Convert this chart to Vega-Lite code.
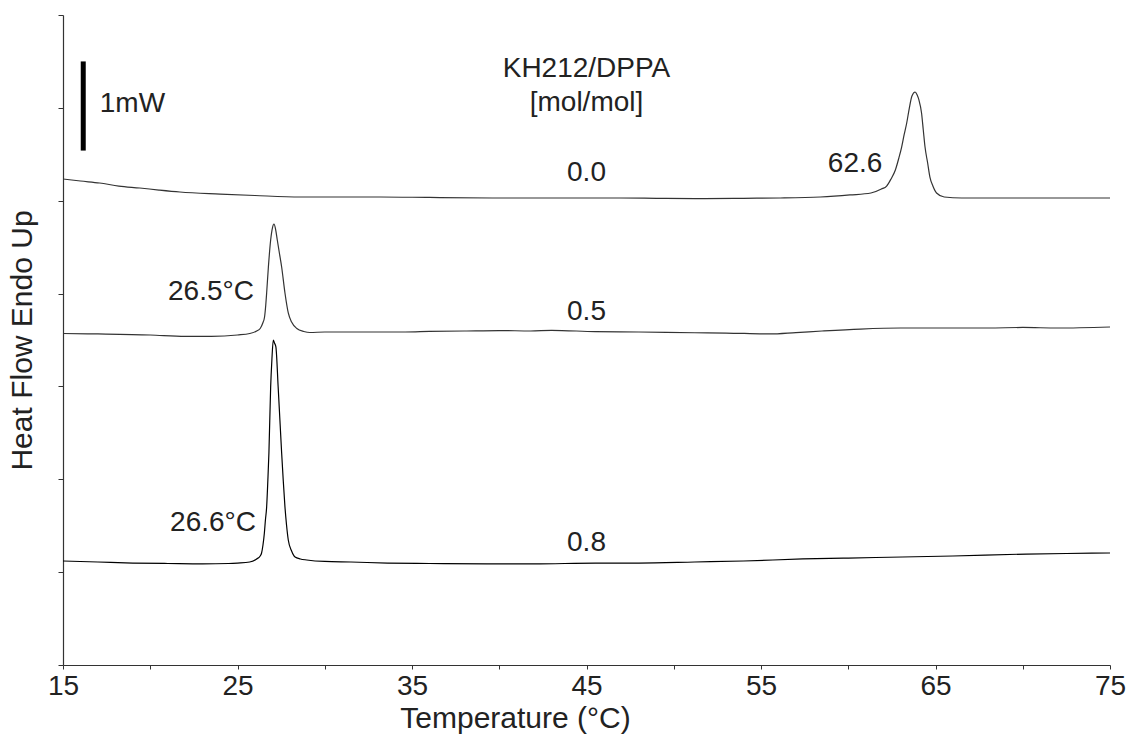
{
  "$schema": "https://vega.github.io/schema/vega-lite/v6.json",
  "width": 1047,
  "height": 650,
  "autosize": {"type": "none"},
  "padding": {"left": 63, "top": 15, "right": 16, "bottom": 73},
  "background": "white",
  "config": {
    "view": {"stroke": null},
    "font": "Liberation Sans",
    "axis": {
      "grid": false,
      "domainColor": "#333",
      "domainWidth": 1.2,
      "tickColor": "#333",
      "tickWidth": 1,
      "labelFont": "Liberation Sans",
      "titleFont": "Liberation Sans",
      "labelFontSize": 28,
      "titleFontSize": 30,
      "labelColor": "#222",
      "titleColor": "#222",
      "titleFontWeight": "normal"
    }
  },
  "datasets": {
    "curves": [
      {"s": "0.0", "t": 15, "v": 5.234}, {"s": "0.0", "t": 16, "v": 5.212}, {"s": "0.0", "t": 17.1, "v": 5.191},
      {"s": "0.0", "t": 18.2, "v": 5.158}, {"s": "0.0", "t": 19.4, "v": 5.137}, {"s": "0.0", "t": 20.5, "v": 5.115},
      {"s": "0.0", "t": 21.7, "v": 5.094}, {"s": "0.0", "t": 24.0, "v": 5.072}, {"s": "0.0", "t": 26, "v": 5.056},
      {"s": "0.0", "t": 28.6, "v": 5.04}, {"s": "0.0", "t": 33.2, "v": 5.04}, {"s": "0.0", "t": 36, "v": 5.035},
      {"s": "0.0", "t": 40, "v": 5.029}, {"s": "0.0", "t": 43, "v": 5.029}, {"s": "0.0", "t": 46.9, "v": 5.029},
      {"s": "0.0", "t": 49, "v": 5.026}, {"s": "0.0", "t": 51.5, "v": 5.022}, {"s": "0.0", "t": 54, "v": 5.026},
      {"s": "0.0", "t": 56.1, "v": 5.029}, {"s": "0.0", "t": 58.4, "v": 5.04}, {"s": "0.0", "t": 60.1, "v": 5.062},
      {"s": "0.0", "t": 61.3, "v": 5.083}, {"s": "0.0", "t": 61.9, "v": 5.126}, {"s": "0.0", "t": 62.2, "v": 5.158},
      {"s": "0.0", "t": 62.45, "v": 5.234}, {"s": "0.0", "t": 62.7, "v": 5.331}, {"s": "0.0", "t": 62.9, "v": 5.46},
      {"s": "0.0", "t": 63.06, "v": 5.578}, {"s": "0.0", "t": 63.2, "v": 5.708}, {"s": "0.0", "t": 63.35, "v": 5.837},
      {"s": "0.0", "t": 63.5, "v": 5.998}, {"s": "0.0", "t": 63.65, "v": 6.128}, {"s": "0.0", "t": 63.83, "v": 6.171},
      {"s": "0.0", "t": 63.95, "v": 6.138}, {"s": "0.0", "t": 64.05, "v": 6.085}, {"s": "0.0", "t": 64.2, "v": 5.945},
      {"s": "0.0", "t": 64.3, "v": 5.762}, {"s": "0.0", "t": 64.4, "v": 5.578}, {"s": "0.0", "t": 64.55, "v": 5.406},
      {"s": "0.0", "t": 64.68, "v": 5.255}, {"s": "0.0", "t": 64.85, "v": 5.158}, {"s": "0.0", "t": 65.06, "v": 5.083},
      {"s": "0.0", "t": 65.5, "v": 5.04}, {"s": "0.0", "t": 66.5, "v": 5.029}, {"s": "0.0", "t": 68, "v": 5.029},
      {"s": "0.0", "t": 70, "v": 5.029}, {"s": "0.0", "t": 72, "v": 5.029}, {"s": "0.0", "t": 75, "v": 5.029},

      {"s": "0.5", "t": 15, "v": 3.57}, {"s": "0.5", "t": 17, "v": 3.565}, {"s": "0.5", "t": 20, "v": 3.554},
      {"s": "0.5", "t": 22, "v": 3.54}, {"s": "0.5", "t": 23.5, "v": 3.54}, {"s": "0.5", "t": 25, "v": 3.554},
      {"s": "0.5", "t": 25.7, "v": 3.57}, {"s": "0.5", "t": 26.1, "v": 3.597}, {"s": "0.5", "t": 26.3, "v": 3.624},
      {"s": "0.5", "t": 26.45, "v": 3.683}, {"s": "0.5", "t": 26.55, "v": 3.748}, {"s": "0.5", "t": 26.62, "v": 3.877},
      {"s": "0.5", "t": 26.67, "v": 4.006}, {"s": "0.5", "t": 26.77, "v": 4.286}, {"s": "0.5", "t": 26.9, "v": 4.577},
      {"s": "0.5", "t": 27.0, "v": 4.706}, {"s": "0.5", "t": 27.09, "v": 4.749}, {"s": "0.5", "t": 27.18, "v": 4.695},
      {"s": "0.5", "t": 27.28, "v": 4.577}, {"s": "0.5", "t": 27.4, "v": 4.437}, {"s": "0.5", "t": 27.53, "v": 4.286},
      {"s": "0.5", "t": 27.72, "v": 4.006}, {"s": "0.5", "t": 27.91, "v": 3.791}, {"s": "0.5", "t": 28.1, "v": 3.694},
      {"s": "0.5", "t": 28.4, "v": 3.624}, {"s": "0.5", "t": 28.8, "v": 3.592}, {"s": "0.5", "t": 29.15, "v": 3.581},
      {"s": "0.5", "t": 30, "v": 3.586}, {"s": "0.5", "t": 32, "v": 3.586}, {"s": "0.5", "t": 34.6, "v": 3.586},
      {"s": "0.5", "t": 36, "v": 3.592}, {"s": "0.5", "t": 38, "v": 3.597}, {"s": "0.5", "t": 40, "v": 3.602},
      {"s": "0.5", "t": 41.8, "v": 3.597}, {"s": "0.5", "t": 43, "v": 3.604}, {"s": "0.5", "t": 45.5, "v": 3.59},
      {"s": "0.5", "t": 48, "v": 3.586}, {"s": "0.5", "t": 51.2, "v": 3.578}, {"s": "0.5", "t": 53, "v": 3.575},
      {"s": "0.5", "t": 55.5, "v": 3.565}, {"s": "0.5", "t": 57, "v": 3.58}, {"s": "0.5", "t": 58.5, "v": 3.597},
      {"s": "0.5", "t": 60.7, "v": 3.618}, {"s": "0.5", "t": 63, "v": 3.629}, {"s": "0.5", "t": 65.5, "v": 3.629},
      {"s": "0.5", "t": 68, "v": 3.629}, {"s": "0.5", "t": 70, "v": 3.635}, {"s": "0.5", "t": 72, "v": 3.629},
      {"s": "0.5", "t": 75, "v": 3.64},

      {"s": "0.8", "t": 15, "v": 1.12}, {"s": "0.8", "t": 17, "v": 1.109}, {"s": "0.8", "t": 19, "v": 1.098},
      {"s": "0.8", "t": 21, "v": 1.093}, {"s": "0.8", "t": 23, "v": 1.088}, {"s": "0.8", "t": 24.5, "v": 1.093},
      {"s": "0.8", "t": 25, "v": 1.098}, {"s": "0.8", "t": 25.7, "v": 1.109}, {"s": "0.8", "t": 26.1, "v": 1.142},
      {"s": "0.8", "t": 26.3, "v": 1.174}, {"s": "0.8", "t": 26.38, "v": 1.206}, {"s": "0.8", "t": 26.46, "v": 1.292},
      {"s": "0.8", "t": 26.54, "v": 1.422}, {"s": "0.8", "t": 26.6, "v": 1.562}, {"s": "0.8", "t": 26.67, "v": 1.702},
      {"s": "0.8", "t": 26.74, "v": 1.992}, {"s": "0.8", "t": 26.8, "v": 2.283}, {"s": "0.8", "t": 26.9, "v": 2.994},
      {"s": "0.8", "t": 26.97, "v": 3.285}, {"s": "0.8", "t": 27.05, "v": 3.5}, {"s": "0.8", "t": 27.12, "v": 3.468},
      {"s": "0.8", "t": 27.2, "v": 3.425}, {"s": "0.8", "t": 27.33, "v": 2.994}, {"s": "0.8", "t": 27.43, "v": 2.638},
      {"s": "0.8", "t": 27.53, "v": 2.283}, {"s": "0.8", "t": 27.62, "v": 1.992}, {"s": "0.8", "t": 27.72, "v": 1.702},
      {"s": "0.8", "t": 27.81, "v": 1.508}, {"s": "0.8", "t": 27.91, "v": 1.346}, {"s": "0.8", "t": 28.1, "v": 1.228},
      {"s": "0.8", "t": 28.3, "v": 1.163}, {"s": "0.8", "t": 28.6, "v": 1.142}, {"s": "0.8", "t": 28.97, "v": 1.131},
      {"s": "0.8", "t": 30, "v": 1.115}, {"s": "0.8", "t": 31.5, "v": 1.109}, {"s": "0.8", "t": 33.6, "v": 1.098},
      {"s": "0.8", "t": 36, "v": 1.093}, {"s": "0.8", "t": 39.3, "v": 1.088}, {"s": "0.8", "t": 42, "v": 1.088},
      {"s": "0.8", "t": 45.5, "v": 1.098}, {"s": "0.8", "t": 48, "v": 1.098}, {"s": "0.8", "t": 51.2, "v": 1.109},
      {"s": "0.8", "t": 54, "v": 1.12}, {"s": "0.8", "t": 57.4, "v": 1.142}, {"s": "0.8", "t": 60, "v": 1.152},
      {"s": "0.8", "t": 63.1, "v": 1.163}, {"s": "0.8", "t": 66, "v": 1.174}, {"s": "0.8", "t": 70.2, "v": 1.195},
      {"s": "0.8", "t": 72.5, "v": 1.201}, {"s": "0.8", "t": 75, "v": 1.206}
    ],
    "labels": [
      {"t": 45, "v": 6.42, "label": "KH212/DPPA"},
      {"t": 45, "v": 6.05, "label": "[mol/mol]"},
      {"t": 45, "v": 5.30, "label": "0.0"},
      {"t": 45, "v": 3.80, "label": "0.5"},
      {"t": 45, "v": 1.31, "label": "0.8"},
      {"t": 60.39, "v": 5.395, "label": "62.6"},
      {"t": 23.48, "v": 4.017, "label": "26.5°C"},
      {"t": 23.6, "v": 1.529, "label": "26.6°C"},
      {"t": 18.98, "v": 6.04, "label": "1mW"}
    ],
    "bar": [
      {"t": 16.16, "v": 5.54, "v2": 6.5}
    ]
  },
  "layer": [
    {
      "data": {"name": "curves"},
      "mark": {"type": "line", "interpolate": "monotone"},
      "encoding": {
        "x": {
          "field": "t",
          "type": "quantitative",
          "scale": {"domain": [15, 75], "nice": false, "zero": false},
          "axis": {
            "title": "Temperature (°C)",
            "values": [15, 20, 25, 30, 35, 40, 45, 50, 55, 60, 65, 70, 75],
            "labelExpr": "datum.value % 10 == 5 ? datum.label : ''",
            "labelFlush": false,
            "labelOverlap": false,
            "tickSize": 4,
            "labelPadding": 3,
            "titleX": 452,
            "titleY": 53,
            "titleBaseline": "middle",
            "titleAlign": "center"
          }
        },
        "y": {
          "field": "v",
          "type": "quantitative",
          "scale": {"domain": [0, 7], "nice": false, "zero": false},
          "axis": {
            "title": "Heat Flow Endo Up",
            "values": [0, 1, 2, 3, 4, 5, 6, 7],
            "labels": false,
            "tickSize": 5,
            "titleX": -41,
            "titleY": 325,
            "titleAngle": -90,
            "titleBaseline": "middle",
            "titleAlign": "center"
          }
        },
        "color": {
          "field": "s",
          "type": "nominal",
          "scale": {"domain": ["0.0", "0.5", "0.8"], "range": ["#333333", "#333333", "#000000"]},
          "legend": null
        },
        "strokeWidth": {
          "field": "s",
          "type": "nominal",
          "scale": {"domain": ["0.0", "0.5", "0.8"], "range": [1.2, 1.2, 2.6]},
          "legend": null
        }
      }
    },
    {
      "data": {"name": "bar"},
      "mark": {"type": "rule", "strokeWidth": 5, "color": "#000000"},
      "encoding": {
        "x": {"field": "t", "type": "quantitative"},
        "y": {"field": "v", "type": "quantitative"},
        "y2": {"field": "v2"}
      }
    },
    {
      "data": {"name": "labels"},
      "mark": {"type": "text", "fontSize": 28, "color": "#222222", "baseline": "middle", "align": "center", "font": "Liberation Sans"},
      "encoding": {
        "x": {"field": "t", "type": "quantitative"},
        "y": {"field": "v", "type": "quantitative"},
        "text": {"field": "label"}
      }
    }
  ]
}
